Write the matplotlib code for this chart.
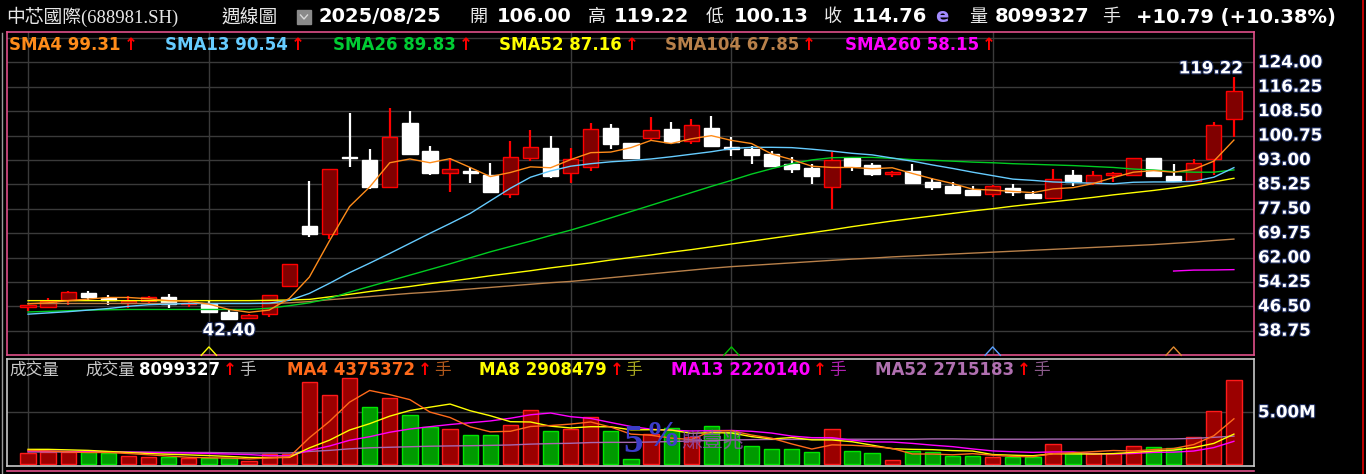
import matplotlib
matplotlib.use('Agg')
import matplotlib.pyplot as plt
import matplotlib.patheffects as pe
from matplotlib.lines import Line2D
from matplotlib.patches import Rectangle
import numpy as np

W, H = 1366, 474
DPI = 100
CJK = ['Noto Sans CJK TC', 'DejaVu Sans']

#Weekly candles for 688981.SH, oldest first.
opens = [46.4, 46.4, 48.5, 50.6, 49.2, 47.6, 48.3, 49.3, 47.1, 47.2,
         44.8, 42.8, 43.9, 52.9, 72.0, 69.4, 93.9, 93.0, 84.5, 104.6,
         95.8, 88.7, 89.4, 88.2, 82.1, 93.5, 96.7, 88.7, 90.8, 103.0,
         98.3, 100.0, 102.8, 99.1, 103.0, 96.9, 96.5, 94.9, 91.7, 90.5,
         84.3, 93.7, 91.4, 88.4, 89.5, 86.1, 84.7, 83.4, 82.2, 84.0,
         82.2, 80.8, 88.2, 85.6, 88.3, 88.2, 93.5, 87.9, 86.4, 93.4,
         106.00]
highs = [46.9, 49.0, 51.3, 51.4, 50.1, 49.8, 49.8, 50.3, 47.8, 48.3,
         45.5, 44.1, 50.1, 60.0, 86.3, 90.0, 107.8, 96.5, 109.4, 108.5,
         97.4, 93.5, 90.8, 91.9, 99.0, 102.5, 100.6, 96.7, 104.6, 104.3,
         98.5, 106.5, 104.9, 105.9, 106.9, 100.2, 97.4, 95.7, 93.8, 91.7,
         95.6, 93.7, 91.9, 89.6, 91.7, 87.2, 85.9, 84.6, 85.0, 85.2,
         83.1, 90.0, 89.8, 89.5, 89.1, 93.5, 93.5, 91.7, 93.3, 104.9,
         119.22]
lows = [45.1, 46.2, 46.9, 48.3, 46.9, 45.9, 47.2, 45.9, 46.4, 44.8,
        42.4, 42.6, 43.2, 52.8, 68.6, 67.8, 90.8, 83.7, 84.0, 94.8,
        88.2, 82.9, 85.8, 82.4, 81.0, 92.7, 87.3, 85.6, 89.5, 96.5,
        93.5, 99.3, 98.0, 98.0, 97.5, 94.3, 91.7, 91.1, 88.9, 85.3,
        77.4, 89.5, 88.0, 87.7, 85.3, 83.4, 82.6, 81.6, 81.3, 81.6,
        81.0, 80.8, 84.8, 85.0, 86.1, 88.2, 88.0, 86.4, 86.4, 88.2,
        100.13]
closes = [46.7, 48.3, 50.9, 49.5, 48.5, 48.2, 49.3, 47.2, 47.6, 44.8,
          42.5, 43.7, 50.1, 59.8, 69.4, 90.0, 93.5, 84.5, 100.2, 94.8,
          88.7, 90.0, 89.0, 82.9, 94.0, 97.2, 87.9, 93.2, 102.7, 98.0,
          93.7, 102.5, 98.6, 104.1, 97.5, 96.5, 94.6, 91.1, 90.1, 88.0,
          93.0, 91.2, 88.4, 89.2, 85.8, 84.5, 82.6, 81.9, 84.7, 82.7,
          81.0, 86.8, 86.1, 88.2, 88.5, 93.5, 88.0, 86.4, 91.9, 103.97,
          114.76]

#Moving averages as drawn on the chart.
sma4 = [47.3, 47.6, 48.3, 48.8, 49.3, 49.3, 48.9, 48.3, 48.1, 47.2,
        45.5, 44.6, 45.3, 49.0, 55.8, 67.3, 78.2, 84.4, 92.1, 93.3,
        92.1, 93.4, 90.6, 87.7, 89.0, 90.8, 90.5, 93.1, 95.3, 95.5,
        96.9, 99.2, 98.2, 99.7, 100.7, 99.2, 98.2, 94.9, 93.1, 91.0,
        90.6, 90.6, 90.2, 90.5, 88.7, 87.0, 85.5, 83.7, 83.4, 83.0,
        82.6, 83.8, 84.2, 85.5, 87.4, 89.1, 89.6, 89.1, 90.0, 92.6,
        99.31]
sma13 = [44.0, 44.4, 44.8, 45.3, 45.8, 46.5, 47.0, 47.2, 47.4, 47.4,
         47.4, 47.4, 47.5, 48.4, 50.6, 53.8, 57.2, 60.2, 63.3, 66.5,
         69.7, 72.8, 76.0, 80.0, 84.0, 87.5, 89.5, 91.0, 91.8, 92.4,
         92.8, 93.3, 94.0, 94.8, 95.6, 96.6, 97.0, 97.0, 96.9, 96.4,
         95.8, 95.1, 94.6, 93.6, 92.6, 91.4, 90.3, 89.1, 88.0, 86.9,
         86.5, 86.0, 85.8, 85.6, 85.4, 85.9, 86.0, 86.0, 86.2, 87.5,
         90.54]
sma26 = [44.7, 44.9, 45.1, 45.3, 45.4, 45.5, 45.5, 45.5, 45.5, 45.5,
         45.5, 45.5, 45.9, 46.7, 47.6, 49.0, 51.0, 52.8, 54.6, 56.4,
         58.2, 60.0, 61.9, 63.8, 65.5, 67.2, 69.0, 70.7, 72.6, 74.6,
         76.6, 78.6, 80.6, 82.6, 84.6, 86.5, 88.5, 90.2, 91.8, 93.0,
         93.7, 93.8, 93.8, 93.5, 93.1, 92.9, 92.6, 92.3, 92.1, 91.8,
         91.6, 91.4, 91.2, 90.9, 90.6, 90.1, 89.8, 89.3, 89.1, 89.1,
         89.83]
sma52 = [48.3, 48.3, 48.3, 48.3, 48.3, 48.3, 48.3, 48.3, 48.3, 48.3,
         48.3, 48.3, 48.4, 48.5, 48.7, 49.5, 50.3, 51.2, 52.0, 52.8,
         53.7, 54.5, 55.3, 56.2, 57.0, 57.8, 58.7, 59.5, 60.3, 61.2,
         62.0, 62.8, 63.7, 64.5, 65.4, 66.3, 67.2, 68.1, 69.0, 69.9,
         70.8, 71.8, 72.7, 73.6, 74.4, 75.2, 76.0, 76.8, 77.5, 78.3,
         79.0, 79.7, 80.4, 81.1, 81.9, 82.6, 83.3, 84.1, 85.0, 86.0,
         87.16]
sma104 = [47.4, 47.4, 47.4, 47.4, 47.4, 47.4, 47.4, 47.4, 47.4, 47.4,
          47.4, 47.4, 47.4, 47.6, 48.0, 48.6, 49.1, 49.6, 50.1, 50.6,
          51.0, 51.5, 52.0, 52.5, 53.0, 53.5, 54.0, 54.4, 55.0, 55.6,
          56.2, 56.8, 57.4, 58.0, 58.6, 59.1, 59.5, 59.9, 60.3, 60.7,
          61.1, 61.5, 61.8, 62.2, 62.5, 62.8, 63.1, 63.4, 63.7, 64.0,
          64.3, 64.6, 64.9, 65.2, 65.5, 65.8, 66.1, 66.5, 66.9, 67.4,
          67.85]
sma260 = [None] * 57 + [57.7, 58.0, 58.05, 58.15]

#Volume in millions of lots, 1 = red (up week), 0 = green.
volumes = [1.07, 1.17, 1.17, 1.17, 1.07, 0.79, 0.69, 0.69, 0.59, 0.59,
           0.59, 0.34, 0.98, 0.98, 7.93, 6.63, 8.32, 5.48, 6.34, 4.71,
           3.56, 3.37, 2.80, 2.80, 3.75, 5.19, 3.18, 3.37, 4.52, 3.24,
           0.50, 2.92, 3.47, 2.66, 3.69, 3.14, 1.77, 1.48, 1.48, 1.17,
           3.40, 1.29, 1.07, 0.40, 1.29, 1.23, 0.81, 0.81, 0.72, 0.75,
           0.69, 1.96, 1.13, 1.13, 1.13, 1.77, 1.68, 1.55, 2.63, 5.12,
           8.099327]
vol_up = [1, 1, 1, 0, 0, 1, 1, 0, 1, 0,
          0, 1, 1, 1, 1, 1, 1, 0, 1, 0,
          0, 1, 0, 0, 1, 1, 0, 1, 1, 0,
          0, 1, 0, 1, 0, 0, 0, 0, 0, 0,
          1, 0, 0, 1, 0, 0, 0, 0, 1, 0,
          0, 1, 0, 1, 1, 1, 0, 0, 1, 1,
          1]
vol_ma4 = [1.35, 1.30, 1.20, 1.15, 1.15, 1.05, 0.93, 0.81, 0.69, 0.64,
           0.62, 0.53, 0.63, 0.72, 2.56, 4.13, 5.97, 7.09, 6.69, 6.21,
           5.02, 4.50, 3.61, 3.13, 3.18, 3.64, 3.73, 3.87, 4.07, 3.58,
           2.91, 2.80, 2.53, 2.39, 3.19, 3.24, 2.82, 2.52, 1.97, 1.48,
           1.88, 1.84, 1.73, 1.54, 1.01, 1.00, 0.93, 1.04, 0.89, 0.77,
           0.74, 1.03, 1.13, 1.23, 1.34, 1.29, 1.43, 1.53, 1.91, 2.75,
           4.375]
vol_ma8 = [1.45, 1.45, 1.40, 1.35, 1.25, 1.15, 1.05, 0.98, 0.92, 0.85,
           0.77, 0.67, 0.66, 0.68, 1.59, 2.33, 3.30, 3.91, 4.63, 5.17,
           5.49, 5.79, 5.15, 4.67, 4.10, 4.07, 3.67, 3.50, 3.62, 3.61,
           3.32, 3.33, 3.30, 2.98, 3.05, 3.02, 2.67, 2.45, 2.58, 2.36,
           2.35, 2.18, 1.85, 1.51, 1.45, 1.42, 1.33, 1.29, 0.95, 0.89,
           0.84, 1.03, 1.01, 1.00, 1.04, 1.16, 1.28, 1.38, 1.62, 2.02,
           2.908]
vol_ma13 = [1.30, 1.28, 1.25, 1.22, 1.20, 1.18, 1.15, 1.12, 1.10, 1.05,
            1.00, 0.95, 0.84, 0.83, 1.35, 1.77, 2.32, 2.66, 3.09, 3.40,
            3.62, 3.83, 4.00, 4.17, 4.43, 4.76, 4.93, 4.58, 4.41, 4.02,
            3.64, 3.38, 3.28, 3.21, 3.24, 3.26, 3.18, 3.01, 2.72, 2.57,
            2.57, 2.32, 2.16, 2.15, 2.02, 1.85, 1.71, 1.49, 1.30, 1.22,
            1.16, 1.20, 1.20, 1.02, 1.01, 1.06, 1.16, 1.18, 1.29, 1.62,
            2.220]
vol_ma52 = [1.20, 1.20, 1.20, 1.20, 1.20, 1.20, 1.18, 1.17, 1.15, 1.15,
            1.12, 1.10, 1.10, 1.10, 1.25, 1.35, 1.50, 1.60, 1.65, 1.70,
            1.75, 1.78, 1.80, 1.83, 1.87, 1.95, 2.00, 2.03, 2.10, 2.12,
            2.12, 2.15, 2.20, 2.25, 2.30, 2.35, 2.38, 2.40, 2.40, 2.40,
            2.42, 2.42, 2.42, 2.42, 2.42, 2.45, 2.45, 2.42, 2.42, 2.42,
            2.42, 2.43, 2.43, 2.43, 2.43, 2.44, 2.44, 2.45, 2.50, 2.60,
            2.715]

price_grid = [38.75, 46.50, 54.25, 62.00, 69.75, 77.50, 85.25, 93.00,
              100.75, 108.50, 116.25, 124.00, 131.75]
price_labels = ['38.75', '46.50', '54.25', '62.00', '69.75', '77.50',
                '85.25', '93.00', '100.75', '108.50', '116.25', '124.00']
week_grid = [0, 9, 27, 35, 48]
marks = [9, 35, 48, 57]
mark_colors = ['#ffff00', '#00c000', '#5aa0ff', '#e08a30']

GRID = '#3a3a3a'
PINK = '#e0508a'


def fx(px):
    return px / W


def fy(py):
    return 1 - py / H


def box(x0, y0, x1, y1):
    return [x0 / W, 1 - y1 / H, (x1 - x0) / W, (y1 - y0) / H]


fig = plt.figure(figsize=(W / DPI, H / DPI), dpi=DPI, facecolor='black')
renderer = fig.canvas.get_renderer()
halo = [pe.withStroke(linewidth=1.6, foreground='#1c2a5a')]

#Price panel
ax = fig.add_axes(box(6.5, 32.3, 1254, 355.3))
ax.set_facecolor('black')
ax.set_xlim(-1.07, 61.0)
ax.set_ylim(30.94, 133.53)
for s in ax.spines.values():
    s.set_color(PINK)
    s.set_linewidth(1.2)
ax.set_xticks([])
ax.set_yticks([])
for p in price_grid:
    ax.axhline(p, color=GRID, lw=1, zorder=0)
for g in week_grid:
    ax.axvline(g, color=GRID, lw=1, zorder=0)

x = np.arange(len(closes))
for i in x:
    up = closes[i] > opens[i]
    edge = '#ff0000' if up else '#ffffff'
    face = '#800000' if up else '#ffffff'
    ax.vlines(i, lows[i], highs[i], color=edge, lw=1.6, zorder=2)
    lo, hi = sorted((opens[i], closes[i]))
    ax.bar(i, max(hi - lo, 0.45), bottom=lo, width=0.76, color=face,
           edgecolor=edge, lw=1.0, zorder=3)

ma_lines = [(sma104, '#b8804a'), (sma52, '#ffff00'), (sma26, '#00cc22'),
            (sma13, '#66ccff'), (sma4, '#ff8c1a'), (sma260, '#ff00ff')]
for vals, col in ma_lines:
    ax.plot(x, np.array(vals, dtype=float), color=col, lw=1.0, zorder=4)

for m, col in zip(marks, mark_colors):
    ax.plot([m - 0.38, m, m + 0.38], [30.94, 33.6, 30.94], color=col,
            lw=1.0, zorder=4, clip_on=False)

for p, lab in zip(price_grid, price_labels):
    ax.annotate(lab, xy=(1, p), xycoords=('axes fraction', 'data'),
                xytext=(4, 0), textcoords='offset pixels', va='center',
                ha='left', color='white', fontsize=12, fontweight='bold',
                annotation_clip=False, path_effects=halo)

ax.annotate(f'{highs[-1]:.2f}', xy=(60, highs[-1]), xytext=(9, 9),
            textcoords='offset pixels', ha='right', va='center',
            color='white', fontsize=12, fontweight='bold', path_effects=halo)
low_i = int(np.argmin(lows))
ax.annotate(f'{lows[low_i]:.2f}', xy=(low_i, lows[low_i]), xytext=(0, -11),
            textcoords='offset pixels', ha='center', va='center',
            color='white', fontsize=12, fontweight='bold', path_effects=halo)

#Volume panel
axv = fig.add_axes(box(6.5, 358.5, 1254, 466))
axv.set_facecolor('black')
axv.set_xlim(-1.07, 61.0)
axv.set_ylim(-0.144, 10.15)
for s in axv.spines.values():
    s.set_color('#c8c8c8')
    s.set_linewidth(1.2)
axv.set_xticks([])
axv.set_yticks([])
axv.axhline(5.0, color=GRID, lw=1, zorder=0)
for g in week_grid:
    axv.axvline(g, color=GRID, lw=1, zorder=0)

faces = ['#9b0000' if u else '#009a00' for u in vol_up]
edges = ['#ff1a1a' if u else '#00e600' for u in vol_up]
axv.bar(x, volumes, width=0.76, color=faces, edgecolor=edges, lw=1.0, zorder=2)

for vals, col in [(vol_ma52, '#a868b0'), (vol_ma13, '#ff00ff'),
                  (vol_ma8, '#ffff00'), (vol_ma4, '#ff6a1a')]:
    axv.plot(x, vals, color=col, lw=1.0, zorder=4)

#Watermark over the bars
axv.text(30.1, 1.2, '5', color='#3c3cc8', fontsize=28, fontweight='bold',
         family='Liberation Serif', ha='center', va='baseline', zorder=6)
axv.text(31.6, 1.75, '%', color='#3c3cc8', fontsize=25, fontweight='bold',
         family='Liberation Serif', ha='center', va='baseline', zorder=6)
axv.text(32.5, 2.3, '賺壹兆', color='#9050b0', alpha=0.8, fontsize=15,
         family=CJK, ha='left', va='center', zorder=6)

axv.annotate('5.00M', xy=(1, 5.0), xycoords=('axes fraction', 'data'),
             xytext=(4, 0), textcoords='offset pixels', va='center',
             color='white', fontsize=12, fontweight='bold',
             annotation_clip=False, path_effects=halo)

#Frame lines around the panels
fig.add_artist(Line2D([fx(2), fx(2)], [fy(33), fy(474)], color='#9a9a9a', lw=1))
fig.add_artist(Line2D([fx(6.5), fx(1254)], [fy(471), fy(471)], color=PINK, lw=1.2))
fig.add_artist(Line2D([fx(1362.5), fx(1362.5)], [fy(0), fy(474)], color='#e00000', lw=1.2))


def put(px, py, s, color='white', size=14, bold=False, family=None):
    kw = dict(color=color, fontsize=size, va='center', ha='left')
    if bold:
        kw['fontweight'] = 'bold'
    if family:
        kw['family'] = family
    return fig.text(fx(px), fy(py), s, **kw)


def after(t, gap=3):
    return t.get_window_extent(renderer).x1 + gap


#Header
put(6, 17, '中芯國際(688981.SH)', color='#e8e8e8', size=13.5,
    family=['Liberation Serif', 'Noto Sans CJK TC'])
put(222, 17, '週線圖', color='#e8e8e8', size=13.5, family=CJK)
fig.add_artist(Rectangle((fx(297), fy(24)), 14 / W, 14 / H, color='#8a8a8a',
                         transform=fig.transFigure))
fig.add_artist(Line2D([fx(300.5), fx(304), fx(307.5)], [fy(15), fy(19), fy(15)],
                      color='#d8d8d8', lw=1))
put(318, 17, '2025/08/25', bold=True)
for px, lab in [(469, '開'), (588, '高'), (706, '低'), (824, '收'), (969, '量')]:
    put(px, 17, lab, color='#e8e8e8', size=13, family=CJK)
for px, val in [(497, '106.00'), (614, '119.22'), (734, '100.13'), (852, '114.76')]:
    put(px, 17, val, bold=True)
put(935, 17, 'e', color='#a38cff', bold=True)
put(995, 17, '8099327', bold=True)
put(1102, 17, '手', color='#e8e8e8', size=13, family=CJK)
put(1136, 17, '+10.79 (+10.38%)', bold=True)

#Price legend
sma_legend = [(9, 'SMA4 99.31', '#ff8c1a'), (165, 'SMA13 90.54', '#66ccff'),
              (333, 'SMA26 89.83', '#00cc33'), (499, 'SMA52 87.16', '#ffff00'),
              (665, 'SMA104 67.85', '#b8804a'), (845, 'SMA260 58.15', '#ff00ff')]
for px, lab, col in sma_legend:
    t = put(px, 45, lab, color=col, size=12, bold=True)
    put(after(t), 45, '↑', color='#ff0000', size=12, bold=True)

#Volume legend
put(9, 370, '成交量', color='#c8c8c8', size=12, family=CJK)
vol_legend = [(85, '成交量', None, '#c8c8c8', '#b8b8b8'),
              (287, 'MA4', '4375372', '#ff6a1a', '#b0581c'),
              (479, 'MA8', '2908479', '#ffff00', '#a8a820'),
              (671, 'MA13', '2220140', '#ff00ff', '#b020b0'),
              (875, 'MA52', '2715183', '#b070b0', '#8a5a8a')]
for px, name, val, col, dim in vol_legend:
    if val is None:
        t = put(px, 370, name, color=col, size=12, family=CJK)
        t = put(after(t, 4), 370, '8099327', color='white', size=12, bold=True)
    else:
        t = put(px, 370, f'{name} {val}', color=col, size=12, bold=True)
    a = put(after(t), 370, '↑', color='#ff0000', size=12, bold=True)
    put(after(a, 2), 370, '手', color=dim, size=12, family=CJK)

fig.savefig('out.png', dpi=DPI, facecolor='black')
